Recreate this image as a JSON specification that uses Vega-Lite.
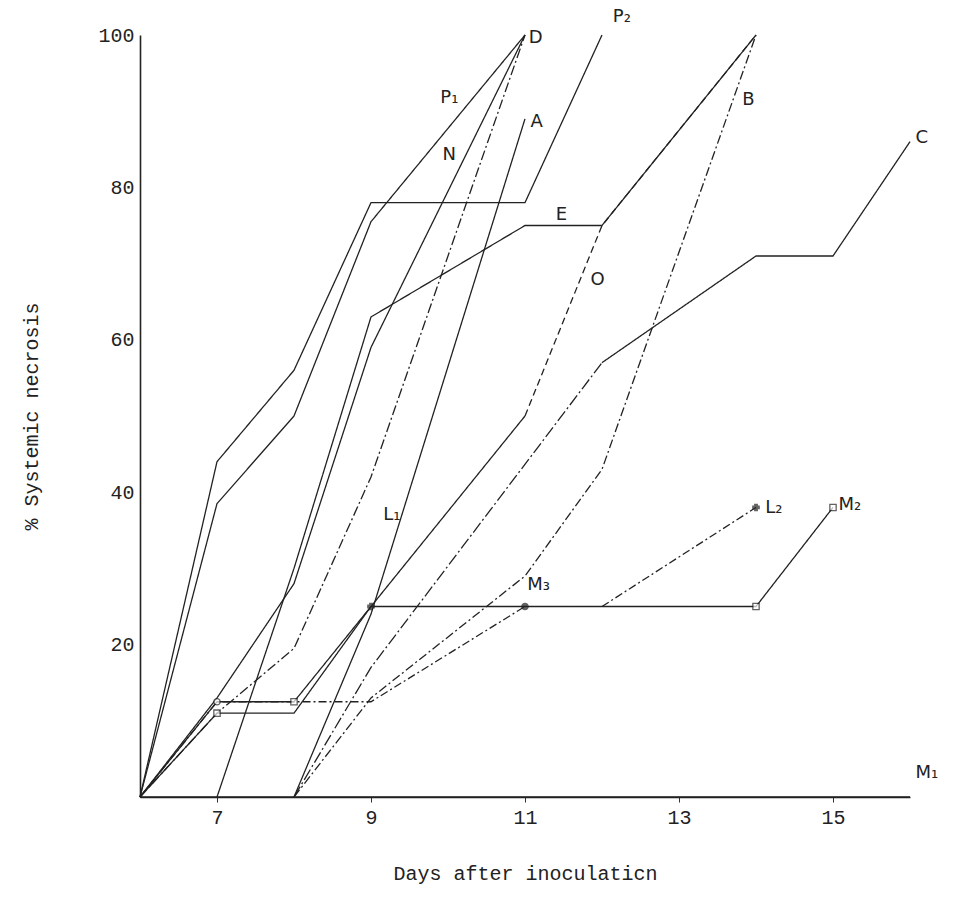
{
  "$schema": "https://vega.github.io/schema/vega-lite/v6.json",
  "width": 770,
  "height": 762,
  "autosize": "none",
  "padding": {"left": 140, "top": 35, "right": 46, "bottom": 117},
  "background": "white",
  "config": {"view": {"stroke": null}},
  "datasets": {
    "lines": [
      {"series": "P1", "day": 6, "pct": 0}, {"series": "P1", "day": 7, "pct": 38.5}, {"series": "P1", "day": 8, "pct": 50}, {"series": "P1", "day": 9, "pct": 75.5}, {"series": "P1", "day": 11, "pct": 100},
      {"series": "P2", "day": 6, "pct": 0}, {"series": "P2", "day": 7, "pct": 44}, {"series": "P2", "day": 8, "pct": 56}, {"series": "P2", "day": 9, "pct": 78}, {"series": "P2", "day": 11, "pct": 78}, {"series": "P2", "day": 12, "pct": 100},
      {"series": "N", "day": 6, "pct": 0}, {"series": "N", "day": 7, "pct": 13}, {"series": "N", "day": 8, "pct": 28}, {"series": "N", "day": 9, "pct": 59}, {"series": "N", "day": 11, "pct": 100},
      {"series": "D", "day": 6, "pct": 0}, {"series": "D", "day": 7, "pct": 11}, {"series": "D", "day": 8, "pct": 19.5}, {"series": "D", "day": 9, "pct": 42}, {"series": "D", "day": 11, "pct": 100},
      {"series": "A", "day": 8, "pct": 0}, {"series": "A", "day": 9, "pct": 24}, {"series": "A", "day": 11, "pct": 89},
      {"series": "E", "day": 7, "pct": 0}, {"series": "E", "day": 8, "pct": 30}, {"series": "E", "day": 9, "pct": 63}, {"series": "E", "day": 11, "pct": 75}, {"series": "E", "day": 12, "pct": 75}, {"series": "E", "day": 14, "pct": 100},
      {"series": "L1", "day": 6, "pct": 0}, {"series": "L1", "day": 7, "pct": 12.5}, {"series": "L1", "day": 8, "pct": 12.5}, {"series": "L1", "day": 9, "pct": 25}, {"series": "L1", "day": 11, "pct": 50},
      {"series": "O", "day": 11, "pct": 50}, {"series": "O", "day": 12, "pct": 75}, {"series": "O", "day": 14, "pct": 100},
      {"series": "B", "day": 8, "pct": 0}, {"series": "B", "day": 9, "pct": 13}, {"series": "B", "day": 11, "pct": 29}, {"series": "B", "day": 12, "pct": 43}, {"series": "B", "day": 14, "pct": 100},
      {"series": "C early", "day": 8, "pct": 0}, {"series": "C early", "day": 9, "pct": 17}, {"series": "C early", "day": 12, "pct": 57},
      {"series": "C", "day": 12, "pct": 57}, {"series": "C", "day": 14, "pct": 71}, {"series": "C", "day": 15, "pct": 71}, {"series": "C", "day": 16, "pct": 86},
      {"series": "M3", "day": 6, "pct": 0}, {"series": "M3", "day": 7, "pct": 12.5}, {"series": "M3", "day": 8, "pct": 12.5}, {"series": "M3", "day": 9, "pct": 12.5}, {"series": "M3", "day": 11, "pct": 25},
      {"series": "M2", "day": 6, "pct": 0}, {"series": "M2", "day": 7, "pct": 11}, {"series": "M2", "day": 8, "pct": 11}, {"series": "M2", "day": 9, "pct": 25}, {"series": "M2", "day": 11, "pct": 25}, {"series": "M2", "day": 12, "pct": 25}, {"series": "M2", "day": 14, "pct": 25}, {"series": "M2", "day": 15, "pct": 38},
      {"series": "L2", "day": 12, "pct": 25}, {"series": "L2", "day": 14, "pct": 38},
      {"series": "M1", "day": 6, "pct": 0}, {"series": "M1", "day": 16, "pct": 0}
    ],
    "markers": [
      {"kind": "open circle", "day": 7, "pct": 12.5},
      {"kind": "open square", "day": 7, "pct": 11},
      {"kind": "open square", "day": 8, "pct": 12.5},
      {"kind": "open square", "day": 14, "pct": 25},
      {"kind": "open square", "day": 15, "pct": 38},
      {"kind": "star", "day": 9, "pct": 25},
      {"kind": "dot", "day": 11, "pct": 25},
      {"kind": "cross", "day": 14, "pct": 38}
    ],
    "labels": [
      {"text": "P₁", "day": 9.9, "pct": 91.7},
      {"text": "N", "day": 9.93, "pct": 84.3},
      {"text": "D", "day": 11.05, "pct": 99.6},
      {"text": "A", "day": 11.07, "pct": 88.6},
      {"text": "P₂", "day": 12.14, "pct": 102.4},
      {"text": "B", "day": 13.82, "pct": 91.5},
      {"text": "C", "day": 16.07, "pct": 86.5},
      {"text": "E", "day": 11.4, "pct": 76.4},
      {"text": "O", "day": 11.85, "pct": 67.8},
      {"text": "L₁", "day": 9.16, "pct": 37},
      {"text": "M₃", "day": 11.03, "pct": 27.8},
      {"text": "L₂", "day": 14.12, "pct": 37.9},
      {"text": "M₂", "day": 15.07, "pct": 38.3},
      {"text": "M₁", "day": 16.07, "pct": 3.1}
    ]
  },
  "layer": [
    {
      "data": {"name": "lines"},
      "mark": {"type": "line", "color": "#222222", "strokeWidth": 1.3},
      "encoding": {
        "x": {
          "field": "day", "type": "quantitative",
          "scale": {"domain": [6, 16], "nice": false, "zero": false},
          "axis": {
            "values": [7, 9, 11, 13, 15], "format": "d", "grid": false, "tickSize": 5, "tickColor": "#333",
            "domainColor": "#222", "domainWidth": 1.6,
            "labelFont": "Liberation Mono", "labelFontSize": 20, "labelColor": "#222", "labelPadding": 5,
            "title": "Days after inoculaticn", "titleFont": "Liberation Mono", "titleFontSize": 20,
            "titleFontWeight": "normal", "titleColor": "#222", "titlePadding": 36
          }
        },
        "y": {
          "field": "pct", "type": "quantitative",
          "scale": {"domain": [0, 100], "nice": false},
          "axis": {
            "values": [20, 40, 60, 80, 100], "format": "d", "grid": false, "ticks": false,
            "domainColor": "#222", "domainWidth": 1.6,
            "labelFont": "Liberation Mono", "labelFontSize": 20, "labelColor": "#222", "labelPadding": 6,
            "title": "% Systemic necrosis", "titleFont": "Liberation Mono", "titleFontSize": 20,
            "titleFontWeight": "normal", "titleColor": "#222", "titlePadding": 56
          }
        },
        "detail": {"field": "series"},
        "strokeDash": {
          "field": "series", "type": "nominal", "legend": null,
          "scale": {
            "domain": ["P1", "P2", "N", "D", "A", "E", "L1", "O", "B", "C early", "C", "M3", "M2", "L2", "M1"],
            "range": [[1, 0], [1, 0], [1, 0], [10, 3, 2, 3], [1, 0], [1, 0], [1, 0], [7, 4], [9, 3, 2, 3], [12, 3, 2, 3], [1, 0], [8, 3, 2, 3], [1, 0], [8, 3, 2, 3], [1, 0]]
          }
        }
      }
    },
    {
      "data": {"name": "markers"},
      "mark": {"type": "point", "color": "#222222", "strokeWidth": 1.3, "size": 40},
      "encoding": {
        "x": {"field": "day", "type": "quantitative"},
        "y": {"field": "pct", "type": "quantitative"},
        "shape": {
          "field": "kind", "type": "nominal", "legend": null,
          "scale": {"domain": ["open circle", "open square", "star", "dot", "cross"], "range": ["circle", "square", "cross", "circle", "cross"]}
        },
        "fill": {
          "field": "kind", "type": "nominal", "legend": null,
          "scale": {"domain": ["open circle", "open square", "star", "dot", "cross"], "range": ["white", "white", "#222222", "#222222", "#222222"]}
        },
        "fillOpacity": {"value": 1}
      }
    },
    {
      "data": {"name": "labels"},
      "mark": {"type": "text", "align": "left", "baseline": "middle", "font": "DejaVu Sans", "fontSize": 18, "color": "#222222"},
      "encoding": {
        "x": {"field": "day", "type": "quantitative"},
        "y": {"field": "pct", "type": "quantitative"},
        "text": {"field": "text"}
      }
    }
  ]
}
